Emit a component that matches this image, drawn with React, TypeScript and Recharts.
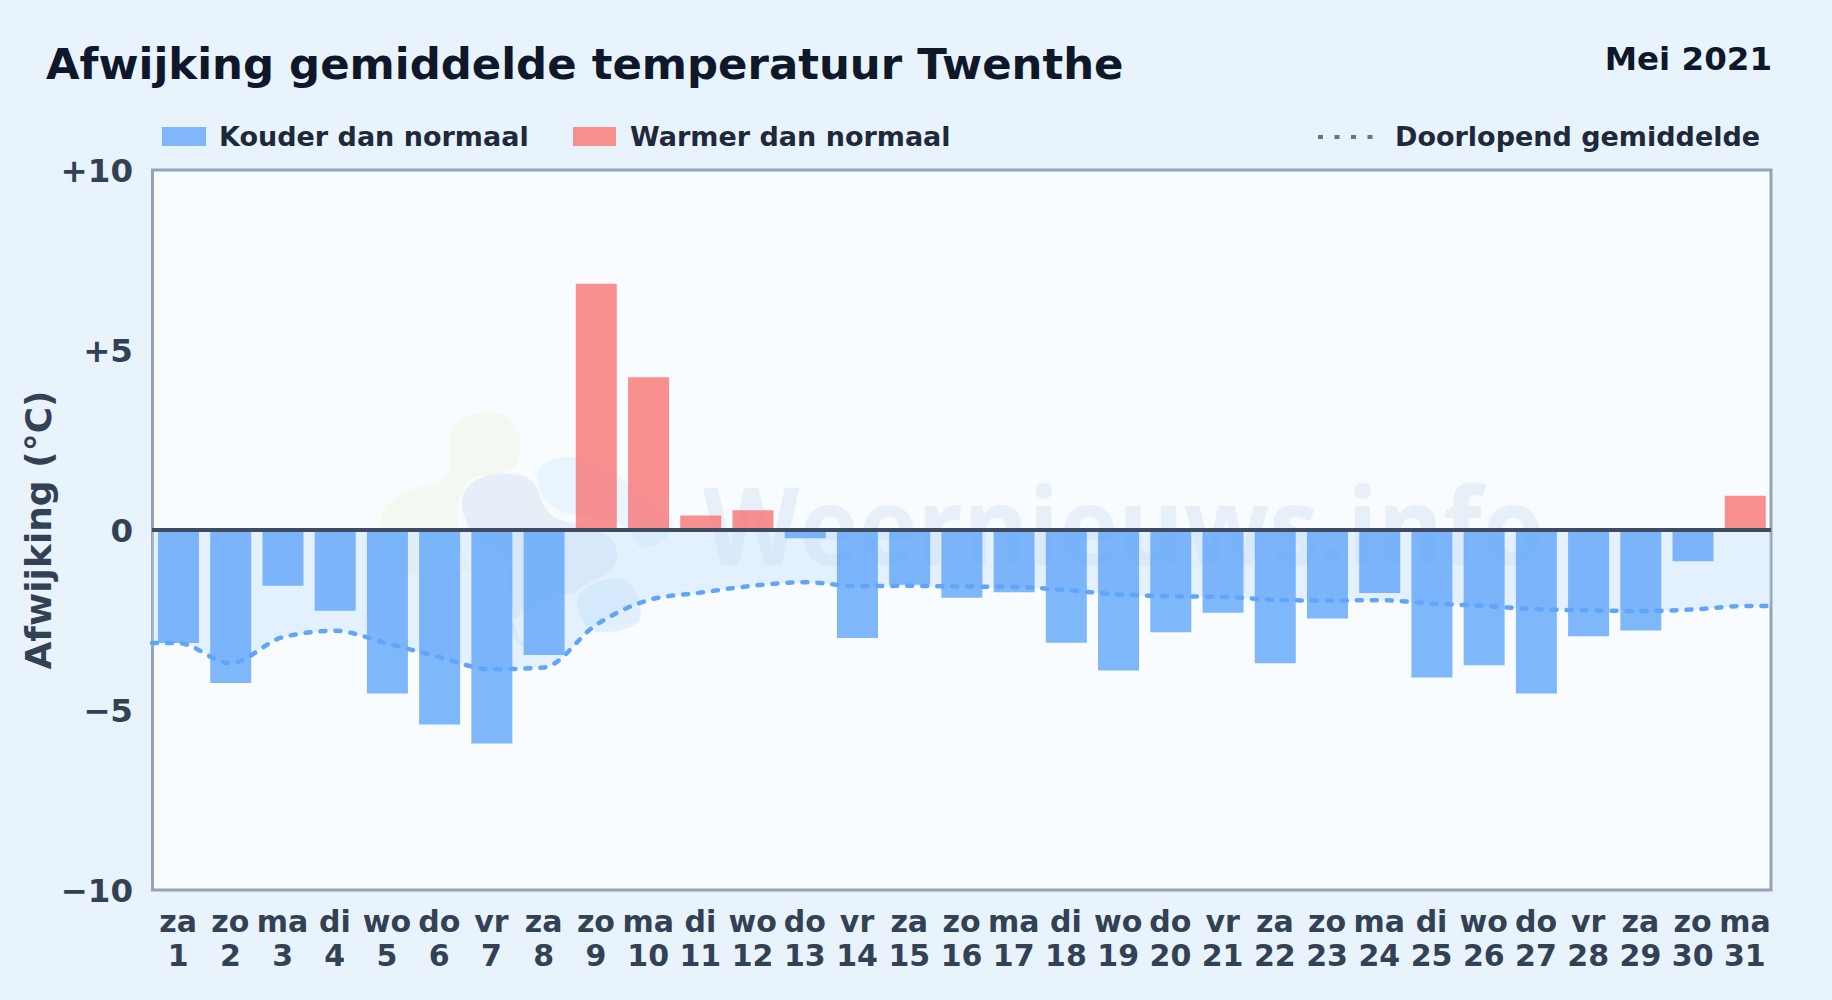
import React from "react";
import { ComposedChart, Bar, Area, Line, XAxis, YAxis, ReferenceLine, CartesianGrid } from "recharts";

const FONT = "'DejaVu Sans', sans-serif";
const days = ["za","zo","ma","di","wo","do","vr","za","zo","ma","di","wo","do","vr","za","zo","ma","di","wo","do","vr","za","zo","ma","di","wo","do","vr","za","zo","ma"];
const anomaly = [-3.14,-4.25,-1.55,-2.24,-4.54,-5.4,-5.93,-3.47,6.84,4.24,0.4,0.55,-0.23,-3.0,-1.52,-1.88,-1.73,-3.13,-3.9,-2.84,-2.3,-3.7,-2.46,-1.75,-4.1,-3.76,-4.54,-2.95,-2.79,-0.87,0.95];
const running = [-3.14,-3.7,-2.98,-2.8,-3.15,-3.53,-3.87,-3.82,-2.64,-1.95,-1.74,-1.55,-1.45,-1.56,-1.55,-1.57,-1.58,-1.67,-1.79,-1.84,-1.86,-1.94,-1.96,-1.95,-2.04,-2.11,-2.2,-2.23,-2.25,-2.21,-2.11];
const yTicks = [-10,-5,0,5,10];

const rows: any[] = days.map((d, i) => ({
  x: i + 1,
  cold: anomaly[i] < 0 ? anomaly[i] : null,
  warm: anomaly[i] >= 0 ? anomaly[i] : null,
}));
const meanRows: any[] = [
  { x: 0.5, mean: running[0] },
  ...days.map((d, i) => ({ x: i + 1, mean: running[i] })),
  { x: 31.5, mean: running[30] },
];

const fmtY = (v: number) => (v > 0 ? `+${v}` : v < 0 ? `\u2212${-v}` : "0");

const XTick = (p: any) => {
  const i = p.payload.value - 1;
  return (
    <text x={p.x} y={890} textAnchor="middle" fontFamily={FONT} fontWeight={700} fontSize={30} fill="#334155">
      <tspan x={p.x} dy={42}>{days[i]}</tspan>
      <tspan x={p.x} dy={34}>{p.payload.value}</tspan>
    </text>
  );
};

const YTick = (p: any) => (
  <text x={133} y={p.y + 12} textAnchor="end" fontFamily={FONT} fontWeight={700} fontSize={32.5} fill="#334155">
    {fmtY(p.payload.value)}
  </text>
);

const Watermark = () => (
  <g>
    <path d="M380 535 C376 505 395 492 430 485 C452 480 452 468 450 440 C446 418 480 408 500 414 C522 420 525 450 515 465 C505 480 480 470 470 480 C450 500 455 540 470 570 L400 575 C385 565 382 550 380 535 Z" fill="#f3f9f0" />
    <path d="M462 505 C460 480 490 470 520 475 C545 480 535 510 560 520 C590 528 615 530 618 555 C615 575 590 580 575 592 C550 598 520 610 512 625 C510 640 525 650 535 652 L520 640 C505 600 515 570 500 555 C480 545 465 530 462 505 Z" fill="#e6eff8" />
    <path d="M537 480 C535 460 565 452 590 460 C620 470 640 500 668 512 C680 525 670 545 640 548 C625 520 615 520 590 516 C560 516 540 505 537 480 Z" fill="#e8f4fe" />
    <path d="M577 600 C580 585 610 575 625 580 C640 590 642 610 640 620 C630 632 600 635 590 630 C580 620 577 610 577 600 Z" fill="#e2f0fe" />
    <text x={703} y={565} fontFamily="'Open Sans', sans-serif" fontWeight={700} fontSize={108} textLength={841} lengthAdjust="spacingAndGlyphs" fill="#e7f0f9">Weernieuws.info</text>
  </g>
);

export default function App() {
  return (
    <div style={{ position: "absolute", left: 0, top: 0, width: 1832, height: 1000, background: "#e8f3fc", fontFamily: FONT, overflow: "hidden" }}>
      <div style={{ position: "absolute", left: 46, top: 39, fontSize: 43.4, fontWeight: 700, color: "#0f172a", whiteSpace: "nowrap" }}>Afwijking gemiddelde temperatuur Twenthe</div>
      <div style={{ position: "absolute", right: 60, top: 40, fontSize: 32.5, fontWeight: 700, color: "#0f172a", whiteSpace: "nowrap" }}>Mei 2021</div>

      <div style={{ position: "absolute", left: 162, top: 127, width: 44, height: 19, background: "#81b6fb" }} />
      <div style={{ position: "absolute", left: 219, top: 121, fontSize: 27, fontWeight: 700, color: "#1e293b", whiteSpace: "nowrap" }}>Kouder dan normaal</div>
      <div style={{ position: "absolute", left: 573, top: 127, width: 43, height: 19, background: "#f78f8f" }} />
      <div style={{ position: "absolute", left: 630, top: 121, fontSize: 27, fontWeight: 700, color: "#1e293b", whiteSpace: "nowrap" }}>Warmer dan normaal</div>
      <svg style={{ position: "absolute", left: 1310, top: 130 }} width={70} height={14}>
        <line x1={8} x2={64} y1={7} y2={7} stroke="#64748b" strokeWidth={4} strokeDasharray="5 11.5" />
      </svg>
      <div style={{ position: "absolute", left: 1395, top: 121, fontSize: 27, fontWeight: 700, color: "#1e293b", whiteSpace: "nowrap" }}>Doorlopend gemiddelde</div>

      <div style={{ position: "absolute", left: 38, top: 530, transform: "translate(-50%,-50%) rotate(-90deg)", fontSize: 36, fontWeight: 700, color: "#334155", whiteSpace: "nowrap" }}>Afwijking (°C)</div>

      <ComposedChart
        width={1832}
        height={1000}
        data={rows}
        margin={{ top: 170, right: 61, bottom: 0, left: 0 }}
        barCategoryGap={0}
        style={{ position: "absolute", left: 0, top: 0 }}
      >
        <rect x={152} y={170} width={1619} height={720} fill="#f8fcff" />
        <Watermark />
        <CartesianGrid horizontal vertical={false} stroke="#e2e8f0" strokeWidth={2} />
        <XAxis
          dataKey="x"
          type="category"
          interval={0}
          tick={<XTick />}
          tickLine={false}
          axisLine={false}
          height={110}
        />
        <XAxis xAxisId="num" dataKey="x" type="number" domain={[0.5, 31.5]} hide height={0} />
        <YAxis
          type="number"
          domain={[-10, 10]}
          ticks={yTicks}
          tick={<YTick />}
          tickLine={false}
          axisLine={false}
          width={152}
        />
        <Area xAxisId="num" data={meanRows} dataKey="mean" type="monotone" stroke="none" fill="#bfdcfd" fillOpacity={0.38} baseValue={0} isAnimationActive={false} />
        <Bar dataKey="cold" stackId="s" barSize={41} fill="#60a5fa" fillOpacity={0.8} isAnimationActive={false} />
        <Bar dataKey="warm" stackId="s" barSize={41} fill="#f87171" fillOpacity={0.78} isAnimationActive={false} />
        <Line xAxisId="num" data={meanRows} dataKey="mean" type="monotone" stroke="#60a5fa" strokeWidth={4.5} strokeDasharray="5 10" strokeLinecap="round" dot={false} isAnimationActive={false} />
        <ReferenceLine y={0} stroke="#3d4c63" strokeWidth={4} />
        <rect x={152.5} y={170} width={1618.5} height={720} fill="none" stroke="#94a3b8" strokeWidth={3} />
      </ComposedChart>
    </div>
  );
}
